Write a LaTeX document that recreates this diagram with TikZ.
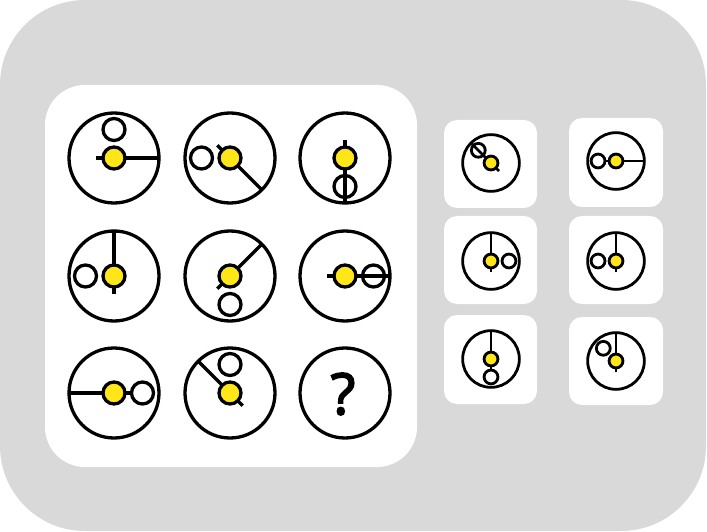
\documentclass[tikz,border=0pt]{standalone}
\usepackage{fontspec}
\newfontfamily\qfont[FakeBold=3]{Open Sans}
\definecolor{panelgray}{RGB}{217,217,217}
\definecolor{dotyellow}{RGB}{255,230,25}
\tikzset{
  ring/.style={draw=black, line width=3.3pt},
  smallring/.style={draw=black, line width=2.8pt},
  board/.style={fill=white, rounded corners=40pt},
  choice/.style={fill=white, rounded corners=13pt},
}
% one dial: x, y, scale, angle of long arm, angle of hollow circle
\newcommand{\dial}[5]{%
  \draw (#1,#2) circle (45*#3);
  \draw ($(#1,#2)+(#4+180:18*#3)$) -- ($(#1,#2)+(#4:45*#3)$);
  \draw ($(#1,#2)+(#5:28.5*#3)$) circle (11*#3);
  \draw[fill=dotyellow] (#1,#2) circle (11*#3);
}
\usetikzlibrary{calc}
\begin{document}
\begin{tikzpicture}[x=1pt,y=1pt]
\useasboundingbox (0,0) rectangle (707,531);
\fill[panelgray, rounded corners=85pt] (0,0) rectangle (706,531);

% the 3x3 board
\fill[board] (45,64) rectangle (417,446);
\begin{scope}[ring]
  \dial{114}{373}{1}{0}{90}
  \dial{230}{373}{1}{-45}{180}
  \dial{345}{373}{1}{-90}{-90}
  \dial{114}{255}{1}{90}{180}
  \dial{230}{255}{1}{45}{-90}
  \dial{345}{255}{1}{0}{0}
  \dial{114}{138}{1}{180}{0}
  \dial{230}{138}{1}{135}{90}
  \draw (345,138) circle (45);
\end{scope}
\node[font=\qfont\fontsize{57}{57}\selectfont] (qmark) at (343,137) {?};

% answer choices
\fill[choice] (444,323) rectangle (537,411);
\fill[choice] (569,324) rectangle (663,413);
\fill[choice] (444,227) rectangle (537,315);
\fill[choice] (569,227) rectangle (663,315);
\fill[choice] (444,127) rectangle (537,216);
\fill[choice] (569,126) rectangle (663,214);
\begin{scope}[smallring]
  \dial{491}{368}{0.63}{135}{135}
  \dial{616}{370}{0.63}{0}{180}
  \dial{491}{270}{0.63}{90}{0}
  \dial{616}{270}{0.63}{90}{180}
  \dial{491}{172}{0.63}{90}{-90}
  \dial{616}{170}{0.63}{90}{135}
\end{scope}
\end{tikzpicture}
\end{document}
